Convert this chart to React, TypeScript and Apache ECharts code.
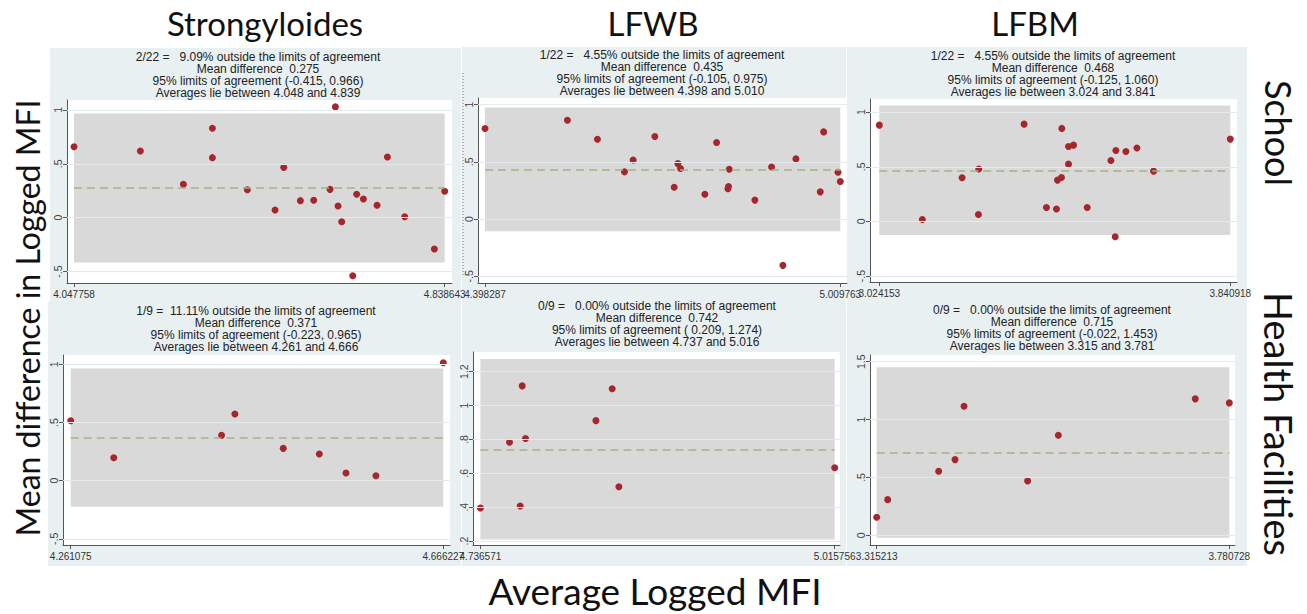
import React, { useEffect, useRef } from 'react';
import * as echarts from 'echarts';

// ---- labels ----
const columnTitles = ['Strongyloides', 'LFWB', 'LFBM'];
const rowTitles = ['School', 'Health Facilities'];
const yAxisTitle = 'Mean difference in Logged MFI';
const xAxisTitle = 'Average Logged MFI';

// ---- Bland-Altman data: average vs difference of logged MFI ----
// Strongyloides, School (n = 22)
const strongSchoolAvg = [4.047758, 4.1893, 4.2811, 4.343, 4.343, 4.4176, 4.4767, 4.4952, 4.5307, 4.5592, 4.594, 4.6054, 4.6111, 4.6189, 4.6424, 4.6509, 4.6652, 4.6943, 4.7164, 4.7533, 4.8166, 4.838643];
const strongSchoolDiff = [0.659, 0.619, 0.31, 0.83, 0.557, 0.26, 0.071, 0.467, 0.158, 0.161, 0.263, 1.028, 0.108, -0.037, -0.539, 0.217, 0.173, 0.115, 0.563, 0.009, -0.291, 0.245];

// LFWB, School (n = 22)
const lfwbSchoolAvg = [4.398287, 4.5401, 4.5918, 4.6383, 4.6532, 4.6906, 4.7239, 4.7302, 4.7348, 4.7767, 4.7968, 4.8163, 4.8174, 4.8186, 4.8628, 4.8915, 4.911, 4.9334, 4.9753, 4.9811, 5.0058, 5.009763];
const lfwbSchoolDiff = [0.791, 0.863, 0.698, 0.413, 0.517, 0.721, 0.279, 0.485, 0.442, 0.218, 0.669, 0.265, 0.285, 0.436, 0.166, 0.456, -0.404, 0.526, 0.238, 0.762, 0.41, 0.328];

// LFBM, School (n = 22)
const lfbmSchoolAvg = [3.024153, 3.1243, 3.2168, 3.2556, 3.2548, 3.3611, 3.4131, 3.4364, 3.4388, 3.4481, 3.4489, 3.4644, 3.4644, 3.4761, 3.5079, 3.5631, 3.5747, 3.5731, 3.598, 3.6236, 3.6624, 3.840918];
const lfbmSchoolDiff = [0.881, 0.018, 0.399, 0.479, 0.064, 0.89, 0.128, 0.113, 0.378, 0.402, 0.851, 0.686, 0.524, 0.698, 0.128, 0.558, 0.649, -0.14, 0.64, 0.671, 0.46, 0.753];

// Strongyloides, Health Facilities (n = 9)
const strongHfAvg = [4.261075, 4.3079, 4.4251, 4.4396, 4.4922, 4.5314, 4.5604, 4.593, 4.666227];
const strongHfDiff = [0.516, 0.198, 0.39, 0.573, 0.278, 0.229, 0.066, 0.043, 1.014];

// LFWB, Health Facilities (n = 9)
const lfwbHfAvg = [4.736571, 4.7595, 4.7679, 4.7695, 4.7721, 4.8276, 4.8404, 4.8457, 5.015756];
const lfwbHfDiff = [0.395, 0.783, 0.407, 1.116, 0.805, 0.911, 1.099, 0.521, 0.633];

// LFBM, Health Facilities (n = 9)
const lfbmHfAvg = [3.315213, 3.3297, 3.397, 3.4186, 3.4305, 3.5145, 3.555, 3.7358, 3.780728];
const lfbmHfDiff = [0.156, 0.308, 0.553, 0.654, 1.115, 0.47, 0.865, 1.179, 1.144];

// panel order: School row (Strongyloides, LFWB, LFBM), then Health Facilities row
const panelAvg = [strongSchoolAvg, lfwbSchoolAvg, lfbmSchoolAvg, strongHfAvg, lfwbHfAvg, lfbmHfAvg];
const panelDiff = [strongSchoolDiff, lfwbSchoolDiff, lfbmSchoolDiff, strongHfDiff, lfwbHfDiff, lfbmHfDiff];

const meanDiff = [0.275, 0.435, 0.468, 0.371, 0.742, 0.715];
const loaLower = [-0.415, -0.105, -0.125, -0.223, 0.209, -0.022];
const loaUpper = [0.966, 0.975, 1.06, 0.965, 1.274, 1.453];

const yTicks = [
  [-0.5, 0, 0.5, 1],
  [-0.5, 0, 0.5, 1],
  [-0.5, 0, 0.5, 1],
  [-0.5, 0, 0.5, 1],
  [0.2, 0.4, 0.6, 0.8, 1, 1.2],
  [0, 0.5, 1, 1.5],
];

// ---- layout of each plot region and its visible value window ----
const frames = [
  { left: 67, top: 100, width: 385, height: 183, xMin: 4.0328, xMax: 4.8542, yMin: -0.606, yMax: 1.092, cx: 258, ty: 57 },
  { left: 478, top: 98, width: 369, height: 185, xMin: 4.38623, xMax: 5.0213, yMin: -0.558, yMax: 1.058, cx: 662, ty: 55 },
  { left: 870, top: 99, width: 367, height: 183, xMin: 3.0025, xMax: 3.85652, yMin: -0.554, yMax: 1.12, cx: 1053, ty: 56 },
  { left: 63, top: 355, width: 387, height: 190, xMin: 4.2527, xMax: 4.67352, yMin: -0.553, yMax: 1.081, cx: 256, ty: 311 },
  { left: 473, top: 352, width: 367, height: 193, xMin: 4.73073, xMax: 5.01994, yMin: 0.177, yMax: 1.316, cx: 657, ty: 306 },
  { left: 870, top: 355, width: 365, height: 190, xMin: 3.30637, xMax: 3.78825, yMin: -0.084, yMax: 1.558, cx: 1052, ty: 310 },
];
const panelBoxes = [
  [50, 48, 411, 257],
  [462, 47, 384, 258],
  [847, 47, 400, 258],
  [48, 301, 413, 265],
  [462, 301, 384, 265],
  [847, 301, 400, 265],
];

const BG = '#e9f0f2';
const BAND = '#d9d9d9';
const DOT = '#a5262d';
const MEAN = '#a2b385';
const AXIS = '#555555';
const SANS = 'Liberation Sans, Arial, sans-serif';
const TITLE_FONT = 'Lato, "Open Sans", sans-serif';

const stataNum = (v: number) => String(parseFloat(v.toFixed(3))).replace(/^(-?)0\./, '$1.');
const padLeft = (s: string, n: number) => (s.length >= n ? s : '\u00a0'.repeat(n - s.length) + s);

function panelLines(i: number): string[] {
  const avg = panelAvg[i];
  const diff = panelDiff[i];
  const n = diff.length;
  const out = diff.filter((d) => d < loaLower[i] || d > loaUpper[i]).length;
  const pct = padLeft(((out / n) * 100).toFixed(2), 6);
  const minA = Math.min(...avg);
  const maxA = Math.max(...avg);
  return [
    `${out}/${n} = ${pct}% outside the limits of agreement`,
    `Mean difference ${padLeft(meanDiff[i].toFixed(3), 6)}`,
    `95% limits of agreement (${padLeft(loaLower[i].toFixed(3), 6)}, ${loaUpper[i].toFixed(3)})`,
    `Averages lie between ${minA.toFixed(3)} and ${maxA.toFixed(3)}`,
  ];
}

function buildOption(): any {
  const grid: any[] = [];
  const xAxis: any[] = [];
  const yAxis: any[] = [];
  const series: any[] = [];
  const graphic: any[] = [];

  panelBoxes.forEach(([x, y, w, h], i) => {
    graphic.push({ type: 'rect', z: -100 + i, silent: true, shape: { x, y, width: w, height: h }, style: { fill: BG } });
  });

  frames.forEach((f, i) => {
    const avg = panelAvg[i];
    const diff = panelDiff[i];
    const minA = Math.min(...avg);
    const maxA = Math.max(...avg);

    grid.push({ left: f.left, top: f.top, width: f.width, height: f.height, show: true, backgroundColor: '#ffffff', borderWidth: 0 });

    xAxis.push({
      type: 'value', gridIndex: i, min: f.xMin, max: f.xMax,
      axisLine: { show: true, onZero: false, lineStyle: { color: AXIS, width: 1 } },
      axisTick: { show: true, length: 4, customValues: [minA, maxA], lineStyle: { color: AXIS } },
      axisLabel: { customValues: [minA, maxA], formatter: (v: number) => v.toFixed(6), fontSize: 10, color: '#333', fontFamily: SANS, margin: 6 },
      splitLine: { show: false },
    });
    yAxis.push({
      type: 'value', gridIndex: i, min: f.yMin, max: f.yMax,
      axisLine: { show: true, onZero: false, lineStyle: { color: AXIS, width: 1 } },
      axisTick: { show: true, length: 4, customValues: yTicks[i], lineStyle: { color: AXIS } },
      axisLabel: { customValues: yTicks[i], rotate: 90, formatter: (v: number) => stataNum(v), fontSize: 10.5, color: '#444', fontFamily: SANS, margin: 4 },
      splitLine: { show: false },
    });

    // limits-of-agreement band
    series.push({
      type: 'scatter', xAxisIndex: i, yAxisIndex: i, z: 1, silent: true, symbolSize: 0,
      data: [[minA, meanDiff[i]], [maxA, meanDiff[i]]],
      markArea: {
        silent: true, label: { show: false }, itemStyle: { color: BAND },
        data: [[{ coord: [minA, loaLower[i]] }, { coord: [maxA, loaUpper[i]] }]],
      },
    });
    // gridlines and mean difference line
    const meanStyle = { color: MEAN, width: 1.6, type: [8, 5] };
    series.push({
      type: 'scatter', xAxisIndex: i, yAxisIndex: i, z: 2, silent: true, symbolSize: 0,
      data: [[minA, meanDiff[i]], [maxA, meanDiff[i]]],
      markLine: {
        silent: true, symbol: ['none', 'none'], label: { show: false },
        data: [
          ...yTicks[i].map((t) => ({ yAxis: t, lineStyle: { color: '#e4ebee', width: 1, type: 'solid' } })),
          [{ coord: [minA, meanDiff[i]], lineStyle: meanStyle }, { coord: [maxA, meanDiff[i]], lineStyle: meanStyle }],
        ],
      },
    });
    series.push({
      type: 'scatter', xAxisIndex: i, yAxisIndex: i, z: 3, symbolSize: 7,
      itemStyle: { color: DOT, opacity: 1 },
      data: avg.map((a, k) => [a, diff[k]]),
    });

    panelLines(i).forEach((line, k) => {
      graphic.push({
        type: 'text', z: 10, silent: true, x: f.cx, y: f.ty + k * 11.9,
        style: { text: line, fill: '#222', fontSize: 12, fontFamily: SANS, align: 'center', verticalAlign: 'middle' },
      });
    });
  });

  // dotted edge line on the left of the LFWB school panel
  graphic.push({ type: 'line', z: 5, silent: true, shape: { x1: 463, y1: 73, x2: 463, y2: 276 }, style: { stroke: '#777', lineWidth: 1, lineDash: [1, 2] } });

  const colX = [265, 653, 1035];
  columnTitles.forEach((t, k) => {
    graphic.push({ type: 'text', z: 10, x: colX[k], y: 23, style: { text: t, fill: '#111', fontSize: 33, fontFamily: TITLE_FONT, align: 'center', verticalAlign: 'middle' } });
  });
  const rowY = [133, 424];
  const rowSize = [36, 38];
  rowTitles.forEach((t, k) => {
    graphic.push({ type: 'text', z: 10, x: 1279, y: rowY[k], rotation: -Math.PI / 2, style: { text: t, fill: '#111', fontSize: rowSize[k], fontFamily: TITLE_FONT, align: 'center', verticalAlign: 'middle' } });
  });
  graphic.push({ type: 'text', z: 10, x: 27, y: 318, rotation: Math.PI / 2, style: { text: yAxisTitle, fill: '#111', fontSize: 32, fontFamily: TITLE_FONT, align: 'center', verticalAlign: 'middle' } });
  graphic.push({ type: 'text', z: 10, x: 655, y: 590, style: { text: xAxisTitle, fill: '#111', fontSize: 37, fontFamily: TITLE_FONT, align: 'center', verticalAlign: 'middle' } });

  return { animation: false, backgroundColor: '#ffffff', grid, xAxis, yAxis, series, graphic };
}

export default function App() {
  const ref = useRef<HTMLDivElement>(null);
  useEffect(() => {
    document.body.style.margin = '0';
    const chart = echarts.init(ref.current as HTMLDivElement, null, { renderer: 'svg' });
    chart.setOption(buildOption());
    return () => chart.dispose();
  }, []);
  return <div ref={ref} style={{ width: 1307, height: 614 }} />;
}
